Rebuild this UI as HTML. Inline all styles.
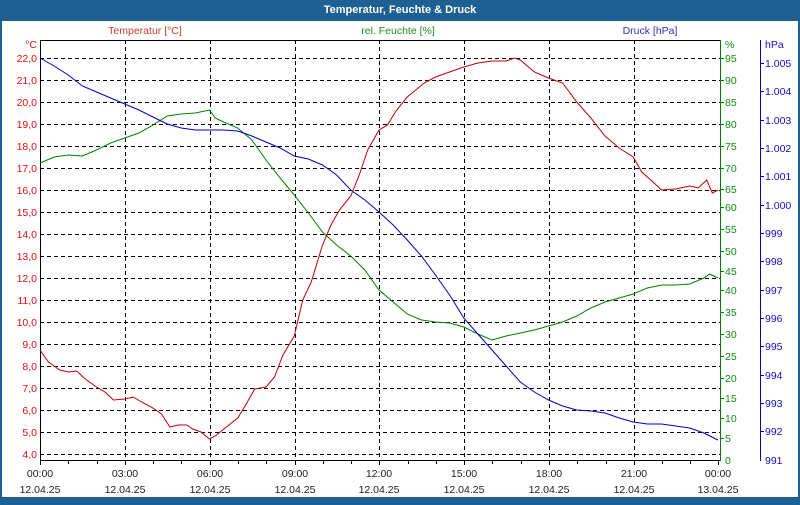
<!DOCTYPE html>
<html><head><meta charset="utf-8"><style>
body{margin:0;width:800px;height:500px;background:#1e5f94;overflow:hidden;font-family:"Liberation Sans",sans-serif}
</style></head><body>
<svg width="800" height="500" xmlns="http://www.w3.org/2000/svg" font-family="Liberation Sans, sans-serif" font-size="10.5">
<rect x="0" y="0" width="800" height="500" fill="#1e5f94"/>
<text x="400" y="13" fill="#fff" font-weight="bold" font-size="11" text-anchor="middle">Temperatur, Feuchte &amp; Druck</text>
<rect x="2" y="21" width="796" height="476" fill="#fff"/>
<text x="145" y="34" fill="#c04030" text-anchor="middle">Temperatur [°C]</text>
<text x="398" y="34" fill="#209020" text-anchor="middle">rel. Feuchte [%]</text>
<text x="650" y="34" fill="#3030c0" text-anchor="middle">Druck [hPa]</text>
<g stroke="#000" stroke-dasharray="4,3" stroke-width="1">
<line x1="40" x2="720" y1="58.5" y2="58.5"/><line x1="40" x2="720" y1="80.5" y2="80.5"/><line x1="40" x2="720" y1="102.5" y2="102.5"/><line x1="40" x2="720" y1="124.5" y2="124.5"/><line x1="40" x2="720" y1="146.5" y2="146.5"/><line x1="40" x2="720" y1="168.5" y2="168.5"/><line x1="40" x2="720" y1="190.5" y2="190.5"/><line x1="40" x2="720" y1="212.5" y2="212.5"/><line x1="40" x2="720" y1="234.5" y2="234.5"/><line x1="40" x2="720" y1="256.5" y2="256.5"/><line x1="40" x2="720" y1="278.5" y2="278.5"/><line x1="40" x2="720" y1="300.5" y2="300.5"/><line x1="40" x2="720" y1="322.5" y2="322.5"/><line x1="40" x2="720" y1="344.5" y2="344.5"/><line x1="40" x2="720" y1="366.5" y2="366.5"/><line x1="40" x2="720" y1="388.5" y2="388.5"/><line x1="40" x2="720" y1="410.5" y2="410.5"/><line x1="40" x2="720" y1="432.5" y2="432.5"/><line x1="40" x2="720" y1="454.5" y2="454.5"/>
<line x1="125.5" x2="125.5" y1="40" y2="460"/><line x1="210.5" x2="210.5" y1="40" y2="460"/><line x1="295.5" x2="295.5" y1="40" y2="460"/><line x1="379.5" x2="379.5" y1="40" y2="460"/><line x1="464.5" x2="464.5" y1="40" y2="460"/><line x1="549.5" x2="549.5" y1="40" y2="460"/><line x1="634.5" x2="634.5" y1="40" y2="460"/>
</g>
<line x1="40" x2="720" y1="40.5" y2="40.5" stroke="#000"/>
<line x1="40.5" x2="40.5" y1="40" y2="461" stroke="#000"/>
<line x1="40" x2="720" y1="460.5" y2="460.5" stroke="#000"/>
<line x1="720.5" x2="720.5" y1="40" y2="461" stroke="#008000"/>
<line x1="760.5" x2="760.5" y1="40" y2="461" stroke="#0000c0"/>
<g stroke="#000">
<line x1="40.5" x2="40.5" y1="460" y2="465"/><line x1="68.5" x2="68.5" y1="460" y2="464"/><line x1="97.5" x2="97.5" y1="460" y2="464"/><line x1="125.5" x2="125.5" y1="460" y2="465"/><line x1="153.5" x2="153.5" y1="460" y2="464"/><line x1="181.5" x2="181.5" y1="460" y2="464"/><line x1="210.5" x2="210.5" y1="460" y2="465"/><line x1="238.5" x2="238.5" y1="460" y2="464"/><line x1="266.5" x2="266.5" y1="460" y2="464"/><line x1="295.5" x2="295.5" y1="460" y2="465"/><line x1="323.5" x2="323.5" y1="460" y2="464"/><line x1="351.5" x2="351.5" y1="460" y2="464"/><line x1="379.5" x2="379.5" y1="460" y2="465"/><line x1="408.5" x2="408.5" y1="460" y2="464"/><line x1="436.5" x2="436.5" y1="460" y2="464"/><line x1="464.5" x2="464.5" y1="460" y2="465"/><line x1="492.5" x2="492.5" y1="460" y2="464"/><line x1="521.5" x2="521.5" y1="460" y2="464"/><line x1="549.5" x2="549.5" y1="460" y2="465"/><line x1="577.5" x2="577.5" y1="460" y2="464"/><line x1="606.5" x2="606.5" y1="460" y2="464"/><line x1="634.5" x2="634.5" y1="460" y2="465"/><line x1="662.5" x2="662.5" y1="460" y2="464"/><line x1="690.5" x2="690.5" y1="460" y2="464"/><line x1="718.5" x2="718.5" y1="460" y2="465"/>
</g>
<g fill="#e01010" text-anchor="end">
<text x="37" y="48">°C</text>
<text x="37" y="62">22,0</text><text x="37" y="84">21,0</text><text x="37" y="106">20,0</text><text x="37" y="128">19,0</text><text x="37" y="150">18,0</text><text x="37" y="172">17,0</text><text x="37" y="194">16,0</text><text x="37" y="216">15,0</text><text x="37" y="238">14,0</text><text x="37" y="260">13,0</text><text x="37" y="282">12,0</text><text x="37" y="304">11,0</text><text x="37" y="326">10,0</text><text x="37" y="348">9,0</text><text x="37" y="370">8,0</text><text x="37" y="392">7,0</text><text x="37" y="414">6,0</text><text x="37" y="436">5,0</text><text x="37" y="458">4,0</text>
</g>
<g fill="#109010">
<text x="725" y="48">%</text>
<text x="725" y="62">95</text><text x="725" y="84">90</text><text x="725" y="106">85</text><text x="725" y="128">80</text><text x="725" y="150">75</text><text x="725" y="172">70</text><text x="725" y="193">65</text><text x="725" y="211">60</text><text x="725" y="233">55</text><text x="725" y="255">50</text><text x="725" y="275">45</text><text x="725" y="294">40</text><text x="725" y="316">35</text><text x="725" y="338">30</text><text x="725" y="360">25</text><text x="725" y="382">20</text><text x="725" y="402">15</text><text x="725" y="422">10</text><text x="725" y="442">5</text><text x="725" y="464">0</text>
</g>
<g stroke="#008000"><line x1="720" x2="724" y1="58.5" y2="58.5"/><line x1="720" x2="724" y1="80.5" y2="80.5"/><line x1="720" x2="724" y1="102.5" y2="102.5"/><line x1="720" x2="724" y1="124.5" y2="124.5"/><line x1="720" x2="724" y1="146.5" y2="146.5"/><line x1="720" x2="724" y1="168.5" y2="168.5"/><line x1="720" x2="724" y1="189.5" y2="189.5"/><line x1="720" x2="724" y1="207.5" y2="207.5"/><line x1="720" x2="724" y1="229.5" y2="229.5"/><line x1="720" x2="724" y1="251.5" y2="251.5"/><line x1="720" x2="724" y1="271.5" y2="271.5"/><line x1="720" x2="724" y1="290.5" y2="290.5"/><line x1="720" x2="724" y1="312.5" y2="312.5"/><line x1="720" x2="724" y1="334.5" y2="334.5"/><line x1="720" x2="724" y1="356.5" y2="356.5"/><line x1="720" x2="724" y1="378.5" y2="378.5"/><line x1="720" x2="724" y1="398.5" y2="398.5"/><line x1="720" x2="724" y1="418.5" y2="418.5"/><line x1="720" x2="724" y1="438.5" y2="438.5"/></g>
<g fill="#1010c0">
<text x="765" y="48">hPa</text>
<text x="765" y="67">1.005</text><text x="765" y="95">1.004</text><text x="765" y="124">1.003</text><text x="765" y="152">1.002</text><text x="765" y="180">1.001</text><text x="765" y="209">1.000</text><text x="765" y="237">999</text><text x="765" y="265">998</text><text x="765" y="294">997</text><text x="765" y="322">996</text><text x="765" y="350">995</text><text x="765" y="379">994</text><text x="765" y="407">993</text><text x="765" y="435">992</text><text x="765" y="464">991</text>
</g>
<g stroke="#0000c0"><line x1="760" x2="764" y1="63.5" y2="63.5"/><line x1="760" x2="764" y1="91.5" y2="91.5"/><line x1="760" x2="764" y1="120.5" y2="120.5"/><line x1="760" x2="764" y1="148.5" y2="148.5"/><line x1="760" x2="764" y1="176.5" y2="176.5"/><line x1="760" x2="764" y1="205.5" y2="205.5"/><line x1="760" x2="764" y1="233.5" y2="233.5"/><line x1="760" x2="764" y1="261.5" y2="261.5"/><line x1="760" x2="764" y1="290.5" y2="290.5"/><line x1="760" x2="764" y1="318.5" y2="318.5"/><line x1="760" x2="764" y1="346.5" y2="346.5"/><line x1="760" x2="764" y1="375.5" y2="375.5"/><line x1="760" x2="764" y1="403.5" y2="403.5"/><line x1="760" x2="764" y1="431.5" y2="431.5"/></g>
<g fill="#222" text-anchor="middle">
<text x="40" y="477">00:00</text><text x="125" y="477">03:00</text><text x="210" y="477">06:00</text><text x="295" y="477">09:00</text><text x="379" y="477">12:00</text><text x="464" y="477">15:00</text><text x="549" y="477">18:00</text><text x="634" y="477">21:00</text><text x="718" y="477">00:00</text>
<text x="40" y="493">12.04.25</text><text x="125" y="493">12.04.25</text><text x="210" y="493">12.04.25</text><text x="295" y="493">12.04.25</text><text x="379" y="493">12.04.25</text><text x="464" y="493">12.04.25</text><text x="549" y="493">12.04.25</text><text x="634" y="493">12.04.25</text><text x="718" y="493">13.04.25</text>
</g>
<g transform="translate(40,0) scale(28.25,1)" fill="none" stroke-width="1">
<polyline vector-effect="non-scaling-stroke" stroke="#008000" points="0,163 0.5,157 1,155 1.5,156 2,150 2.5,143 3,138 3.5,133 4,125 4.5,116 5,114 5.5,113 6,110 6.2,118 6.5,122 7,128 7.5,140 8,160 8.5,178 9,195 9.5,213 10,232 10.5,245 11,256 11.5,270 12,290 12.5,302 13,314 13.5,320 14,322 14.5,323 15,327 15.5,334 16,340 16.5,336 17,333 17.5,330 18,326 18.5,322 19,316 19.5,308 20,302 20.5,298 21,294 21.5,288 22,285 22.5,285 23,284 23.5,278 23.7,274 24,278"/>
<polyline vector-effect="non-scaling-stroke" stroke="#0000c0" points="0,58 0.5,66 1,75 1.5,86 2,92 2.5,98 3,104 3.5,110 4,117 4.5,124 5,128 5.5,130 6,130 6.5,130 7,131 7.5,136 8,142 8.5,148 9,156 9.5,159 10,165 10.5,175 11,190 11.5,200 12,212 12.5,225 13,240 13.5,256 14,275 14.5,295 15,318 15.5,334 16,350 16.5,366 17,382 17.5,392 18,400 18.5,406 19,410 19.5,411 20,413 20.5,418 21,422 21.5,424 22,424 22.5,426 23,428 23.5,433 24,440"/>
<polyline vector-effect="non-scaling-stroke" stroke="#c00000" points="0,350 0.3,362 0.7,370 1,372 1.3,371 1.6,379 2,387 2.3,392 2.6,400 3,399 3.3,397 3.6,402 4,408 4.3,414 4.6,427 4.9,425 5.2,425 5.4,429 5.7,432 6,439 6.2,436 6.6,427 7,418 7.3,404 7.6,389 8,387 8.3,377 8.6,355 9,336 9.3,300 9.6,282 10,245 10.3,225 10.6,210 11,196 11.3,175 11.6,150 12,130 12.3,125 12.6,111 13,97 13.3,90 13.6,83 14,77 14.5,72 15,67 15.5,63 16,61 16.5,61 16.8,58 17,60 17.5,72 18,78 18.5,83 19,102 19.5,118 20,136 20.5,148 21,157 21.3,172 21.7,182 22,190 22.5,189 23,186 23.3,188 23.6,180 23.8,193 24,190"/>
</g>
</svg>
</body></html>
